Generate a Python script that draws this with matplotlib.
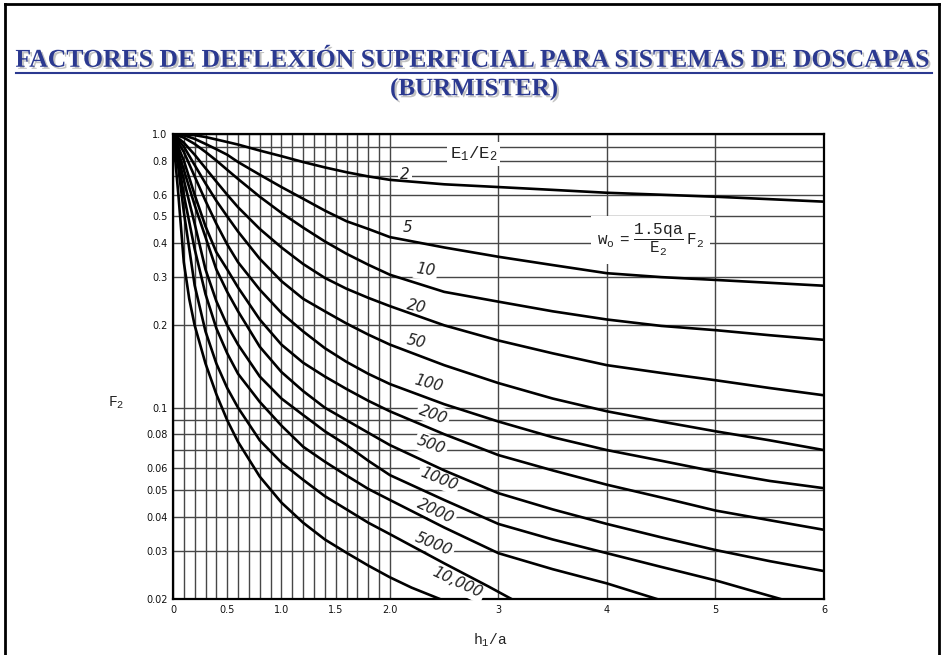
import matplotlib
matplotlib.use("Agg")
import matplotlib.pyplot as plt
import matplotlib.patheffects as pe
from matplotlib.lines import Line2D
from matplotlib.ticker import FixedLocator, FixedFormatter, NullFormatter

plt.rcParams['mathtext.fontset'] = 'custom'
plt.rcParams['mathtext.rm'] = 'Liberation Mono'
plt.rcParams['mathtext.it'] = 'Liberation Mono'
plt.rcParams['mathtext.bf'] = 'Liberation Mono:bold'
plt.rcParams['mathtext.tt'] = 'Liberation Mono'

# ---------------- data ----------------
title_line1 = "FACTORES DE DEFLEXIÓN SUPERFICIAL PARA SISTEMAS DE DOSCAPAS"
title_line2 = "(BURMISTER)"

x_tick_vals = [0, 0.5, 1.0, 1.5, 2.0, 3, 4, 5, 6]
x_tick_text = ["0", "0.5", "1.0", "1.5", "2.0", "3", "4", "5", "6"]
x_minor_vals = [0.1, 0.2, 0.3, 0.4, 0.6, 0.7, 0.8, 0.9, 1.1, 1.2, 1.3, 1.4,
                1.6, 1.7, 1.8, 1.9]
y_tick_vals = [1.0, 0.8, 0.6, 0.5, 0.4, 0.3, 0.2, 0.1, 0.08, 0.06, 0.05, 0.04, 0.03, 0.02]
y_tick_text = ["1.0", "0.8", "0.6", "0.5", "0.4", "0.3", "0.2", "0.1", "0.08",
               "0.06", "0.05", "0.04", "0.03", "0.02"]
y_minor_vals = [0.9, 0.7, 0.09, 0.07]

h_full = [0, 0.1, 0.2, 0.3, 0.4, 0.5, 0.6, 0.8, 1.0, 1.2, 1.4, 1.6, 1.8, 2.0,
          2.5, 3, 3.5, 4, 4.5, 5, 5.5, 6]
f_2 = [1.0, 0.998, 0.99, 0.975, 0.955, 0.935, 0.915, 0.87, 0.83, 0.79, 0.755,
       0.725, 0.70, 0.68, 0.655, 0.64, 0.625, 0.61, 0.60, 0.59, 0.578, 0.566]
f_5 = [1.0, 0.99, 0.96, 0.92, 0.88, 0.84, 0.79, 0.71, 0.64, 0.58, 0.525, 0.48,
       0.45, 0.42, 0.385, 0.356, 0.332, 0.31, 0.30, 0.293, 0.286, 0.279]
f_10 = [1.0, 0.97, 0.92, 0.86, 0.80, 0.74, 0.685, 0.59, 0.515, 0.455, 0.405,
        0.365, 0.333, 0.306, 0.265, 0.244, 0.225, 0.21, 0.199, 0.192, 0.184, 0.177]
f_20 = [1.0, 0.93, 0.84, 0.75, 0.67, 0.60, 0.54, 0.45, 0.385, 0.335, 0.298,
        0.272, 0.252, 0.235, 0.20, 0.176, 0.158, 0.143, 0.134, 0.126, 0.118, 0.111]
f_50 = [1.0, 0.9, 0.77, 0.66, 0.57, 0.5, 0.44, 0.35, 0.29, 0.25, 0.225, 0.203,
        0.185, 0.170, 0.143, 0.123, 0.108, 0.097, 0.089, 0.082, 0.076, 0.070]
f_100 = [1.0, 0.86, 0.70, 0.57, 0.47, 0.395, 0.34, 0.27, 0.222, 0.19, 0.165,
         0.147, 0.133, 0.122, 0.103, 0.089, 0.078, 0.070, 0.064, 0.0584, 0.054, 0.0508]
f_200 = [1.0, 0.8, 0.6, 0.46, 0.37, 0.32, 0.275, 0.21, 0.17, 0.146, 0.13, 0.117,
         0.106, 0.097, 0.080, 0.0671, 0.059, 0.0523, 0.047, 0.0421, 0.0388, 0.0358]
f_500 = [1.0, 0.74, 0.55, 0.42, 0.32, 0.265, 0.225, 0.167, 0.135, 0.115, 0.1,
         0.09, 0.081, 0.073, 0.059, 0.0487, 0.0425, 0.0376, 0.0336, 0.0302, 0.0275, 0.0253]
h_1000 = [0, 0.1, 0.2, 0.3, 0.4, 0.5, 0.6, 0.8, 1.0, 1.2, 1.4, 1.6, 1.8, 2.0,
          2.5, 3, 3.5, 4, 4.5, 5, 5.6]
f_1000 = [1.0, 0.68, 0.47, 0.32, 0.245, 0.2, 0.17, 0.13, 0.108, 0.094, 0.082,
          0.073, 0.064, 0.0567, 0.046, 0.0376, 0.033, 0.0294, 0.0262, 0.0234, 0.020]
h_2000 = [0, 0.05, 0.1, 0.2, 0.3, 0.4, 0.5, 0.6, 0.8, 1.0, 1.2, 1.4, 1.6, 1.8,
          2.0, 2.5, 3, 3.5, 4, 4.46]
f_2000 = [1.0, 0.8, 0.6, 0.38, 0.26, 0.195, 0.158, 0.133, 0.105, 0.086, 0.072,
          0.0635, 0.0565, 0.0505, 0.046, 0.0365, 0.0294, 0.0257, 0.0228, 0.020]
h_5000 = [0, 0.05, 0.1, 0.2, 0.3, 0.4, 0.5, 0.6, 0.8, 1.0, 1.2, 1.4, 1.6, 1.8,
          2.0, 2.5, 2.91, 3.12]
f_5000 = [1.0, 0.75, 0.52, 0.28, 0.19, 0.145, 0.118, 0.1, 0.076, 0.063, 0.0545,
          0.0475, 0.0425, 0.038, 0.0345, 0.027, 0.0222, 0.020]
h_10000 = [0, 0.05, 0.1, 0.15, 0.2, 0.3, 0.4, 0.5, 0.6, 0.8, 1.0, 1.2, 1.4, 1.6,
           1.8, 2.0, 2.2, 2.46]
f_10000 = [1.0, 0.6, 0.34, 0.25, 0.2, 0.145, 0.112, 0.09, 0.075, 0.056, 0.045,
           0.038, 0.033, 0.0295, 0.0265, 0.024, 0.022, 0.020]

curve_names = ["2", "5", "10", "20", "50", "100", "200", "500", "1000", "2000",
               "5000", "10,000"]
curve_h = [h_full, h_full, h_full, h_full, h_full, h_full, h_full, h_full,
           h_1000, h_2000, h_5000, h_10000]
curve_f = [f_2, f_5, f_10, f_20, f_50, f_100, f_200, f_500, f_1000, f_2000,
           f_5000, f_10000]

# label anchor positions (h1/a, F2) and rotation
label_h = [2.09, 2.12, 2.23, 2.14, 2.14, 2.21, 2.25, 2.23, 2.26, 2.23, 2.21, 2.37]
label_f = [0.71, 0.454, 0.319, 0.234, 0.174, 0.123, 0.0945, 0.073, 0.055, 0.042,
           0.0317, 0.0229]
label_rot = [0, 0, -8, -12, -12, -15, -20, -20, -22, -25, -22, -25]

# ---------------- figure ----------------
fig = plt.figure(figsize=(9.42, 6.55), dpi=100)
fig.patch.set_facecolor("white")

# outer frame
for xs, ys in [([0.005, 0.005], [0.0, 0.994]),
               ([0.005, 0.997], [0.994, 0.994]),
               ([0.997, 0.997], [0.0, 0.994])]:
    fig.add_artist(Line2D(xs, ys, transform=fig.transFigure, color="black", lw=2))

title_color = "#2B3990"
shadow = [pe.SimplePatchShadow(offset=(1.5, -1.5), shadow_rgbFace="#9a9a9a", alpha=0.6),
          pe.Normal()]
fig.text(0.5035, 0.908, title_line1, ha="center", va="center", fontsize=18.5,
         fontweight="bold", family="Liberation Serif", color=title_color,
         path_effects=shadow)
fig.add_artist(Line2D([16 / 942, 932 / 942], [1 - 73 / 655] * 2,
                      transform=fig.transFigure, color=title_color, lw=1.5))
fig.text(0.5035, 0.864, title_line2, ha="center", va="center", fontsize=18,
         fontweight="bold", family="Liberation Serif", color=title_color,
         path_effects=shadow)

ax = fig.add_axes([0.1836, 0.0855, 0.6911, 0.7099])
ax.set_yscale("log")
ax.set_xlim(0, 6)
ax.set_ylim(0.02, 1.0)

ax.xaxis.set_major_locator(FixedLocator(x_tick_vals))
ax.xaxis.set_major_formatter(FixedFormatter(x_tick_text))
ax.xaxis.set_minor_locator(FixedLocator(x_minor_vals))
ax.xaxis.set_minor_formatter(NullFormatter())
ax.yaxis.set_major_locator(FixedLocator(y_tick_vals))
ax.yaxis.set_major_formatter(FixedFormatter(y_tick_text))
ax.yaxis.set_minor_locator(FixedLocator(y_minor_vals))
ax.yaxis.set_minor_formatter(NullFormatter())
ax.tick_params(which="both", length=0, labelsize=7, pad=4, labelcolor="#111111")
ax.grid(True, which="both", color="#474747", lw=1.0, zorder=1)
ax.set_axisbelow(True)
for s in ax.spines.values():
    s.set_linewidth(1.6)
    s.set_color("black")

for hv, fv in zip(curve_h, curve_f):
    ax.plot(hv, fv, color="black", lw=1.9, zorder=4, solid_joinstyle="round")

for name, lh, lf, rot in zip(curve_names, label_h, label_f, label_rot):
    ax.text(lh, lf, name, ha="left", va="center", rotation=rot, fontsize=11,
            style="italic", family="DejaVu Sans", color="#222222", zorder=3,
            bbox=dict(facecolor="white", edgecolor="none", pad=1.5))

ax.text(2.77, 0.845, r"$\mathrm{E_1/E_2}$", ha="center", va="center", fontsize=12.5,
        color="#222222", zorder=3,
        bbox=dict(facecolor="white", edgecolor="none", pad=2))
ax.text(4.4, 0.41, r"$\mathrm{w_o\ =\ \dfrac{1.5qa}{E_2}\ F_2}$", ha="center",
        va="center", fontsize=11.5, color="#222222", zorder=3,
        bbox=dict(facecolor="white", edgecolor="none", pad=4))

fig.text(0.123, 0.385, r"$\mathrm{F_2}$", ha="center", va="center", fontsize=10.5,
         color="#222222")
fig.text(0.52, 0.022, r"$\mathrm{h_1/a}$", ha="center", va="center", fontsize=10.5,
         color="#222222")

fig.savefig("out.png", dpi=100, facecolor="white")
